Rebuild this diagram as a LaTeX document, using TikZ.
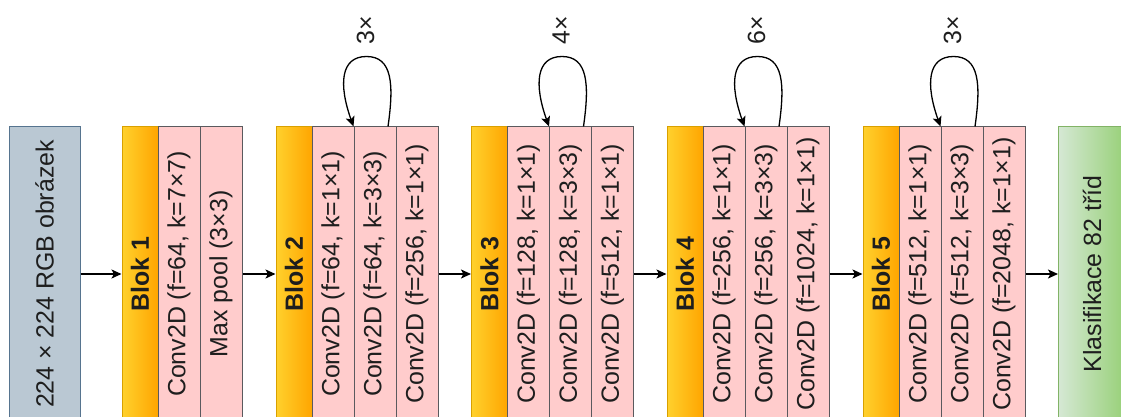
\documentclass[tikz,border=0pt]{standalone}
\usepackage{fontspec}
\setmainfont{Liberation Sans}
\usetikzlibrary{arrows.meta,calc}

\definecolor{inputfill}{HTML}{BAC8D3}
\definecolor{inputdraw}{HTML}{56748F}
\definecolor{convfill}{HTML}{FFCCCC}
\definecolor{convdraw}{HTML}{5A5A5E}
\definecolor{headleft}{HTML}{FFD12D}
\definecolor{headright}{HTML}{FFA500}
\definecolor{headdraw}{HTML}{D9A000}
\definecolor{outleft}{HTML}{D5E8D4}
\definecolor{outright}{HTML}{97D077}
\definecolor{outdraw}{HTML}{82B366}
\definecolor{inktext}{HTML}{1E1E1E}

\newcommand\diagfont{\fontsize{12.45pt}{15pt}\selectfont}

\tikzset{
  unitbox/.style={draw, line width=0.5pt, minimum height=147pt, inner sep=0pt,
    font=\diagfont, text=inktext},
  inputbox/.style={unitbox, fill=inputfill, draw=inputdraw, minimum width=35.5pt},
  convbox/.style={unitbox, fill=convfill, draw=convdraw, minimum width=21pt},
  headbox/.style={unitbox, left color=headleft, right color=headright, draw=headdraw,
    minimum width=18pt, font=\diagfont\bfseries},
  outbox/.style={unitbox, left color=outleft, right color=outright, draw=outdraw,
    minimum width=33.5pt},
  link/.style={-{Stealth[length=5pt,width=4.5pt,inset=1.2pt]}, line width=0.65pt, draw=black},
  countlbl/.style={inner sep=0pt, font=\diagfont, text=inktext},
}

\begin{document}
\begin{tikzpicture}[x=0.5pt,y=-0.5pt]
  \clip (0,0) rectangle (1121,417);

  % input image
  \node[inputbox] (in) at (44.5,274) {\rotatebox{90}{224 × 224 RGB obrázek}};

  % block 1
  \node[headbox] (b1h) at (140,274) {\rotatebox{90}{Blok 1}};
  \node[convbox] (b1c1) at (179,274) {\rotatebox{90}{Conv2D (f=64, k=7×7)}};
  \node[convbox] (b1c2) at (221,274) {\rotatebox{90}{Max pool (3×3)}};

  % block 2
  \node[headbox] (b2h) at (294,274) {\rotatebox{90}{Blok 2}};
  \node[convbox] (b2c1) at (333,274) {\rotatebox{90}{Conv2D (f=64, k=1×1)}};
  \node[convbox] (b2c2) at (375,274) {\rotatebox{90}{Conv2D (f=64, k=3×3)}};
  \node[convbox] (b2c3) at (417,274) {\rotatebox{90}{Conv2D (f=256, k=1×1)}};

  % block 3
  \node[headbox] (b3h) at (489.5,274) {\rotatebox{90}{Blok 3}};
  \node[convbox] (b3c1) at (528.5,274) {\rotatebox{90}{Conv2D (f=128, k=1×1)}};
  \node[convbox] (b3c2) at (570.5,274) {\rotatebox{90}{Conv2D (f=128, k=3×3)}};
  \node[convbox] (b3c3) at (612.5,274) {\rotatebox{90}{Conv2D (f=512, k=1×1)}};

  % block 4
  \node[headbox] (b4h) at (685,274) {\rotatebox{90}{Blok 4}};
  \node[convbox] (b4c1) at (724,274) {\rotatebox{90}{Conv2D (f=256, k=1×1)}};
  \node[convbox] (b4c2) at (766,274) {\rotatebox{90}{Conv2D (f=256, k=3×3)}};
  \node[convbox] (b4c3) at (808,274) {\rotatebox{90}{Conv2D (f=1024, k=1×1)}};

  % block 5
  \node[headbox] (b5h) at (881,274) {\rotatebox{90}{Blok 5}};
  \node[convbox] (b5c1) at (920,274) {\rotatebox{90}{Conv2D (f=512, k=1×1)}};
  \node[convbox] (b5c2) at (962,274) {\rotatebox{90}{Conv2D (f=512, k=3×3)}};
  \node[convbox] (b5c3) at (1004,274) {\rotatebox{90}{Conv2D (f=2048, k=1×1)}};

  % classifier
  \node[outbox] (out) at (1092,274) {\rotatebox{90}{Klasifikace 82 tříd}};

  % forward connections
  \draw[link] (in.east) -- (b1h.west);
  \draw[link] (b1c2.east) -- (b2h.west);
  \draw[link] (b2c3.east) -- (b3h.west);
  \draw[link] (b3c3.east) -- (b4h.west);
  \draw[link] (b4c3.east) -- (b5h.west);
  \draw[link] (b5c3.east) -- (out.west);

  % repetition loops over each bottleneck block
  \foreach \b/\n in {2/3, 3/4, 4/6, 5/3} {
    \coordinate (ap\b) at ($(b\b c1.north east)+(12,-70)$);
    \draw[link] ([xshift=6.5pt]b\b c2.north)
      .. controls +(6,-42) and +(26,0) .. (ap\b)
      .. controls +(-26,0) and +(-15,-42) .. ([xshift=-0.5pt]b\b c1.north east);
    \node[countlbl] (rep\b) at ($(ap\b)+(-1,-26)$) {\rotatebox{90}{\n×}};
  }
\end{tikzpicture}
\end{document}
